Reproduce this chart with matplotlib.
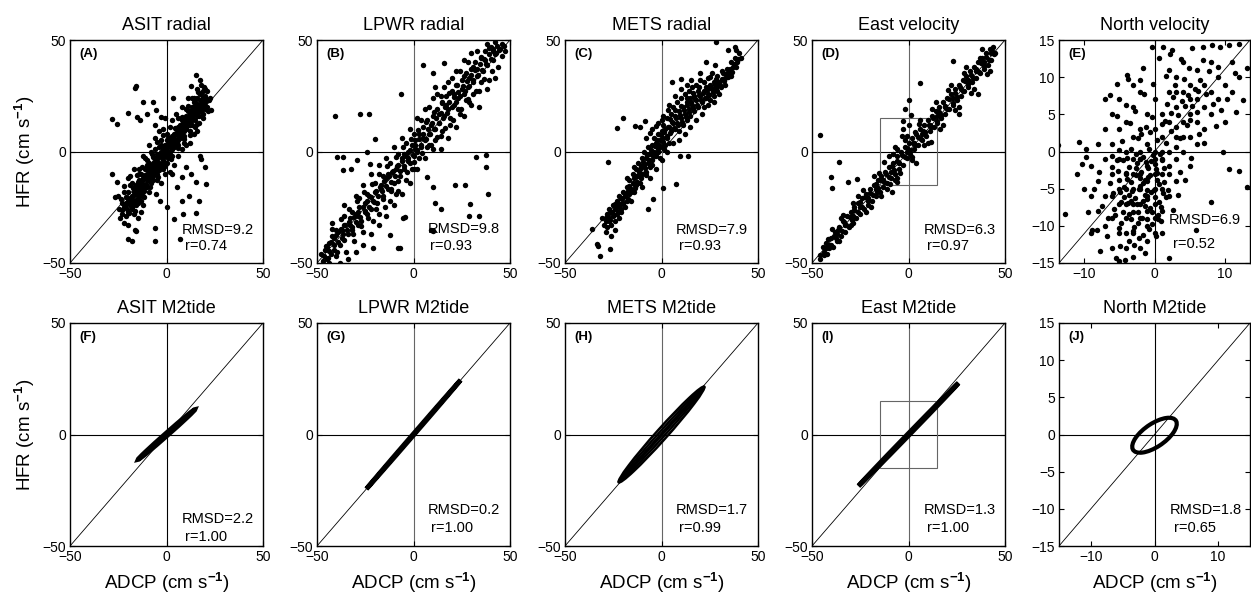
import numpy as np
import matplotlib
matplotlib.use("Agg")
import matplotlib.pyplot as plt
from matplotlib.patches import Ellipse, Rectangle

plt.rcParams['font.family'] = ['Liberation Sans', 'DejaVu Sans']
plt.rcParams['mathtext.fontset'] = 'custom'
plt.rcParams['mathtext.rm'] = 'Liberation Sans'
plt.rcParams['mathtext.it'] = 'Liberation Sans:italic'
plt.rcParams['mathtext.bf'] = 'Liberation Sans:bold'

# ---- panel titles / stats ----
titles = ['ASIT radial', 'LPWR radial', 'METS radial', 'East velocity', 'North velocity',
          'ASIT M2tide', 'LPWR M2tide', 'METS M2tide', 'East M2tide', 'North M2tide']
letters = ['(A)', '(B)', '(C)', '(D)', '(E)', '(F)', '(G)', '(H)', '(I)', '(J)']
rmsd = ['9.2', '9.8', '7.9', '6.3', '6.9', '2.2', '0.2', '1.7', '1.3', '1.8']
corr = ['0.74', '0.93', '0.93', '0.97', '0.52', '1.00', '1.00', '0.99', '1.00', '0.65']

# ---- scatter data (ADCP, HFR) ----
asit_pts = [
    (-23, -28), (-22, -25), (-21, -29), (-20, -22), (-20, -27), (-19, -24), (-18, -20), (-18, -26),
    (-17, -22), (-17, -18), (-16, -24), (-16, -15), (-15, -20), (-15, -17), (-14, -22), (-14, -13),
    (-13, -18), (-13, -10), (-12, -15), (-12, -20), (-11, -12), (-11, -8), (-10, -16), (-10, -10),
    (-9, -13), (-9, -5), (-8, -9), (-8, -14), (-7, -6), (-7, -11), (-6, -3), (-6, -8), (-5, -10),
    (-5, -1), (-4, -5), (-4, 2), (-3, -7), (-3, -2), (-2, 1), (-2, -4), (-1, 3), (-1, -2), (0, 0),
    (0, -5), (0, 5), (1, 2), (1, -3), (2, 6), (2, 0), (3, 4), (3, -2), (4, 8), (4, 2), (5, 5), (5, 10),
    (6, 3), (6, 8), (7, 12), (7, 6), (8, 9), (8, 14), (9, 7), (9, 12), (10, 16), (10, 10), (11, 13),
    (11, 18), (12, 9), (12, 15), (13, 20), (13, 12), (14, 17), (14, 22), (15, 14), (15, 19), (16, 24),
    (16, 16), (17, 21), (17, 13), (18, 18), (18, 26), (19, 22), (20, 19), (20, 25),
    (-21, -23), (-19, -21), (-18, -23), (-16, -19), (-15, -23), (-14, -18), (-13, -14), (-12, -12),
    (-11, -16), (-10, -13), (-9, -9), (-8, -6), (-7, -9), (-6, -5), (-5, -6), (-4, -2), (-3, 0),
    (-2, -1), (-1, 1), (0, 2), (1, 5), (2, 3), (3, 7), (4, 5), (5, 8), (6, 11), (7, 9), (8, 11),
    (9, 15), (10, 13), (11, 15), (12, 18), (13, 16), (14, 19), (15, 22), (16, 20), (17, 18), (18, 23),
    (19, 27), (20, 22), (-20, -18), (-23, -23), (-17, -28), (-12, -24), (-9, -18), (-5, -13), (-2, -8),
    (1, -1), (3, 1), (6, 5), (9, 4), (12, 12), (15, 11), (17, 16), (21, 20), (19, 17), (22, 23),
    (-3, 5), (-6, 1), (-10, -6), (-14, -10), (-18, -14), (-22, -18), (0, 8), (2, 11), (6, 15),
    (10, 19), (13, 24), (16, 28), (18, 30), (20, 28),
    (-24, -30), (-25, -20), (-22, -32), (-20, -33), (-19, -15), (-15, -30), (-13, -27), (-10, -4),
    (-8, 0), (-9, 3), (-6, 6), (-4, 9), (-2, 10), (-12, -2), (-14, -8), (-17, -8), (-20, -12),
    (-3, -14), (-1, -10), (2, -9), (4, -6), (6, -2), (8, 1), (10, 3), (12, 4), (14, 8), (16, 9),
    (3, 14), (5, 17), (8, 20), (11, 24), (-1, 15), (-6, 12),
    (-16.4, 28.3), (-16, 29.2), (-28.4, 14.7), (-25.9, 12.2), (-19.8, 17.3), (-12.4, 22.3),
    (-6.9, 22.3), (3.4, 23.8), (15.5, 34.3), (17.2, 32), (12.9, 29.3), (21, 27.2), (22.4, 23.8),
    (23.3, 18.5), (-19.8, -39.4), (-18.1, -40.2), (-16.4, -35.3), (-15.6, -35.8), (-6, -34.4),
    (-6, -40), (6.9, -39.4), (7.8, -22.1), (8.6, -28.1), (15.5, -27.4), (16.9, -22.1), (3.8, -30.4),
    (17.2, -1.8), (18.1, -3.3), (19.8, -7), (20.7, -14.6), (15.5, -13.8), (12.9, -10), (10.3, -7),
    (7.8, -11.6), (2.6, -10), (5.2, -16.1), (11.7, -19.8), (-28.4, -10), (-25.9, -13.8),
    (-26.7, -20.6), (-15.5, 15.5), (-13.8, 14), (-10.3, 17), (-5.2, 18.5), (-2.6, 15.5),
    (-3.4, -22.1), (-5.2, -19.1), (0, -25.1),
    (-21.5, -24.5), (-20.5, -25.8), (-19.5, -22.8), (-18.6, -21.4), (-17.8, -24.9), (-17.2, -20.1),
    (-16.5, -17.3), (-15.7, -21.6), (-15.1, -18.7), (-14.4, -15.2), (-13.6, -19.8), (-13.1, -16.4),
    (-12.5, -13.1), (-11.8, -17.6), (-11.2, -10.4), (-10.6, -14.5), (-10.1, -11.7), (-9.5, -8.3),
    (-8.8, -15.9), (-8.3, -10.8), (-7.6, -7.4), (-7.1, -12.9), (-6.5, -4.6), (-5.8, -9.2),
    (-5.4, -6.8), (-4.7, -3.5), (-4.1, -8.4), (-3.6, -1.2), (-2.9, -5.6), (-2.4, -2.7), (-1.7, 0.4),
    (-1.2, -4.8), (-0.6, 1.9), (0.3, -1.6), (0.8, 3.4), (1.5, -0.2), (2.1, 4.7), (2.7, 1.3),
    (3.4, 6.2), (3.9, 3.1), (4.6, 7.4), (5.2, 3.8), (5.8, 9.5), (6.4, 6.7), (7.1, 10.6), (7.7, 7.3),
    (8.4, 12.8), (8.9, 9.4), (9.6, 13.7), (10.2, 11.1), (10.8, 15.2), (11.5, 11.9), (12.1, 16.8),
    (12.7, 13.6), (13.4, 18.1), (13.9, 14.7), (14.6, 20.4), (15.2, 17.2), (15.8, 21.5), (16.5, 18.3),
    (17.1, 23.2), (17.7, 19.6), (18.4, 21.1), (19.1, 24.4), (19.8, 20.6), (-22.8, -26.3),
    (-20.9, -20.4), (-19.2, -27.7), (-17.5, -16.2), (-16.1, -26.5), (-14.8, -13.8), (-13.3, -22.4),
    (-11.6, -20.2), (-9.9, -7.1), (-8.1, -12.2), (-6.8, -2.3), (-4.4, -11.3), (-3.1, 2.8),
    (-0.9, -6.6), (0.6, 6.1), (2.4, -3.4), (4.3, 10.4), (6.1, 1.6), (8.2, 15.6), (9.3, 5.8),
    (11.2, 20.3), (12.4, 7.2), (14.1, 24.1), (15.6, 12.4), (17.4, 25.8), (18.7, 15.1), (20.6, 23.4),
    (21.4, 18.2), (16.2, 26.6), (19.4, 29.1), (-1.6, 7.3), (-5.1, 4.2), (-7.7, -1.1), (-10.9, -2.9),
    (-12.9, -6.8), (-15.4, -10.7), (-18.8, -11.2), (-21.8, -15.3), (-23.6, -21.2), (-24.4, -25.7),
]

lpwr_pts = [
    (-47, -49), (-46, -44), (-45, -48), (-44, -41), (-43, -46), (-42, -38), (-41, -44), (-40, -47),
    (-39, -36), (-38, -42), (-37, -39), (-36, -33), (-35, -45), (-34, -37), (-33, -30), (-32, -35),
    (-31, -40), (-30, -28), (-29, -33), (-28, -25), (-27, -31), (-26, -36), (-25, -23), (-24, -28),
    (-23, -20), (-22, -26), (-21, -31), (-20, -18), (-19, -23), (-18, -28), (-17, -15), (-16, -20),
    (-15, -25), (-14, -12), (-13, -17), (-12, -22), (-11, -9), (-10, -14), (-9, -19), (-8, -6),
    (-7, -11), (-6, -3), (-5, -8), (-4, -13), (-3, 0), (-2, -5), (-1, 3), (0, -2), (1, 5), (2, 0),
    (3, 8), (4, 2), (5, 11), (6, 5), (7, 14), (8, 8), (9, 3), (10, 16), (11, 10), (12, 19), (13, 13),
    (14, 7), (15, 22), (16, 16), (17, 25), (18, 19), (19, 12), (20, 27), (21, 21), (22, 30), (23, 24),
    (24, 17), (25, 32), (26, 26), (27, 35), (28, 29), (29, 22), (30, 37), (31, 31), (32, 40), (33, 34),
    (34, 27), (35, 42), (36, 36), (37, 45), (38, 39), (39, 32), (40, 47), (41, 41), (42, 49), (43, 44),
    (44, 38), (45, 46), (46, 43), (38, 48), (33, 45), (28, 40), (24, 36), (20, 33), (16, 29), (12, 26),
    (8, 20), (4, 14), (0, 8), (-4, 4), (-8, -1), (-12, -5), (-16, -11), (-20, -14), (-24, -19),
    (-28, -21), (-32, -27), (-36, -29), (-40, -35), (-30, -45), (-26, -42), (-22, -37), (-18, -33),
    (-14, -29), (-10, -24), (-6, -19), (-2, -14), (2, -8), (6, -3), (10, 1), (14, 1), (18, 6), (22, 11),
    (26, 16), (30, 21), (34, 20), (38, 28), (42, 33), (-44, -50), (-38, -50), (-34, -48), (-48, -46),
    (-42, -32), (-36, -24), (-30, -20), (-26, -15), (-22, -10), (-18, -6), (-14, -3), (-10, 2), (-6, 6),
    (-2, 10), (2, 15), (6, 19), (10, 24), (14, 25), (18, 31), (22, 36), (26, 41), (30, 44), (-1, -8),
    (3, -3), (7, 2), (11, 5), (15, 9), (19, 15), (23, 19), (27, 23), (31, 26), (35, 31), (1, 1),
    (-3, -3), (5, 6), (9, 12), (13, 17), (17, 21), (21, 26), (25, 28), (29, 33), (33, 37), (37, 41),
    (41, 46), (-5, -1), (-9, -8), (-13, -10), (-17, -17), (-21, -22), (-25, -27), (-29, -29),
    (-33, -33), (-37, -35), (-41, -39), (-45, -43),
    (-40.9, 15.8), (-27.9, 17), (-23.1, 17), (-19.7, 5.4), (-6.4, 25.6), (-39.7, -2.3), (-36.6, -2.6),
    (-36.6, -8.1), (-32.6, -7.8), (-24.1, -0.3), (-29.5, -4), (-22.5, -5.5), (0.5, -8), (7, -11.6),
    (10, -16), (10.9, -22.9), (14.3, -25.9), (9.1, -35), (10, -35.8), (21.7, -15.1), (26.7, -15.1),
    (29.3, -23.7), (34.1, -29), (29, -29), (38.4, -19.2), (37.6, -7.1), (37.6, -1.4), (32.4, -2.6),
    (4.8, 38.6), (10.3, 35.1), (15.7, 39.7), (10.9, 28.8), (-11.6, -16.6), (-8.1, -17.6),
    (-5.5, -29.7), (-4.6, -29.4), (-12.4, -37.3), (-8.1, -43.3), (-7.2, -43.3), (-21, -43.3),
    (-46.5, -46.8), (-45.2, -42.3), (-43.8, -44.6), (-42.6, -40.5), (-41.3, -42.1), (-40.2, -37.4),
    (-39.1, -40.8), (-37.8, -34.6), (-36.7, -37.2), (-35.4, -32.9), (-34.3, -35.1), (-33.2, -31.7),
    (-32.1, -33.8), (-30.9, -29.5), (-29.8, -31.6), (-28.6, -27.3), (-27.5, -29.2), (-26.4, -24.8),
    (-25.3, -26.9), (-24.1, -22.4), (-23.0, -24.7), (-21.9, -20.3), (-20.7, -22.5), (-19.6, -17.9),
    (-18.5, -20.1), (-17.4, -15.8), (-16.2, -17.7), (-15.1, -13.4), (-14.0, -15.6), (-12.9, -11.2),
    (-11.7, -13.5), (-10.6, -8.8), (-9.5, -11.1), (-8.4, -6.5), (-7.2, -8.9), (-6.1, -4.3),
    (-5.0, -6.4), (-3.9, -1.8), (-2.7, -4.2), (-1.6, 0.6), (-0.5, -1.7), (0.6, 2.9), (1.8, 0.7),
    (2.9, 5.4), (4.0, 3.1), (5.1, 7.8), (6.3, 5.5), (7.4, 10.2), (8.5, 7.8), (9.6, 12.6), (10.8, 10.3),
    (11.9, 14.9), (13.0, 12.6), (14.1, 17.3), (15.3, 15.1), (16.4, 19.8), (17.5, 17.4), (18.6, 22.1),
    (19.8, 19.9), (20.9, 24.6), (22.0, 22.2), (23.1, 26.9), (24.3, 24.7), (25.4, 29.3), (26.5, 27.1),
    (27.6, 31.8), (28.8, 29.4), (29.9, 34.2), (31.0, 31.9), (32.1, 36.6), (33.3, 34.3), (34.4, 39.1),
    (35.5, 36.7), (36.6, 41.4), (37.8, 39.2), (38.9, 43.8), (40.0, 41.5), (41.1, 45.2), (42.3, 43.8),
    (43.4, 47.1), (44.5, 45.3), (45.6, 48.2), (46.8, 47.4), (47.5, 45.1), (-44.3, -47.9),
    (-39.6, -45.2), (-35.8, -39.5), (-31.5, -37.2), (-27.3, -33.4), (-23.6, -29.8), (-19.2, -25.6),
    (-15.7, -21.3), (-11.4, -17.8), (-7.8, -13.2), (-3.5, -9.4), (0.2, -4.6), (4.6, -0.8), (8.1, 2.9),
    (12.4, 6.4), (16.2, 10.7), (20.4, 14.3), (24.7, 18.9), (28.3, 23.4), (32.6, 27.2), (36.4, 32.5),
    (40.7, 36.2), (-42.1, -34.7), (-37.4, -30.2), (-33.6, -25.8), (-29.2, -22.4), (-25.5, -18.3),
    (-21.3, -14.6), (-17.8, -10.2), (-13.5, -6.7), (-9.2, -2.4), (-5.6, 1.8), (-1.4, 5.7), (2.3, 9.6),
    (6.7, 13.4), (10.4, 17.9), (14.6, 21.6), (18.3, 26.2), (22.7, 29.8), (26.2, 33.7), (30.6, 38.1),
    (34.8, 42.6), (39.3, 46.4),
]

mets_pts = [
    (-30, -33), (-29, -30), (-28, -34), (-28, -28), (-27, -31), (-26, -27), (-26, -33), (-25, -29),
    (-25, -24), (-24, -31), (-24, -26), (-23, -28), (-23, -22), (-22, -25), (-22, -30), (-21, -21),
    (-21, -27), (-20, -23), (-20, -18), (-19, -25), (-19, -20), (-18, -16), (-18, -22), (-17, -19),
    (-17, -13), (-16, -17), (-16, -22), (-15, -14), (-15, -10), (-14, -18), (-14, -12), (-13, -8),
    (-13, -15), (-12, -11), (-12, -5), (-11, -14), (-11, -8), (-10, -3), (-10, -10), (-9, -6), (-9, 0),
    (-8, -9), (-8, -3), (-7, 2), (-7, -5), (-6, -1), (-6, -12), (-5, 3), (-5, -4), (-4, 0), (-4, 6),
    (-3, -2), (-3, 4), (-2, 8), (-2, 1), (-1, 5), (-1, -3), (0, 2), (0, 9), (1, 6), (1, 12), (2, 3),
    (2, 10), (3, 15), (3, 7), (4, 11), (4, 4), (5, 17), (5, 9), (6, 13), (6, 20), (7, 10), (7, 16),
    (8, 22), (8, 13), (9, 18), (9, 9), (10, 24), (10, 15), (11, 20), (11, 12), (12, 17), (12, 26),
    (13, 22), (13, 14), (14, 19), (14, 27), (15, 24), (15, 16), (16, 21), (16, 29), (17, 18), (17, 25),
    (18, 23), (18, 30), (19, 20), (19, 27), (20, 25), (20, 32), (21, 22), (22, 27), (22, 20), (23, 29),
    (23, 24), (24, 26), (24, 33), (25, 23), (25, 30), (26, 28), (26, 35), (27, 25), (27, 31), (28, 29),
    (29, 27), (29, 34), (30, 31), (31, 29), (32, 35), (33, 33), (34, 37), (35, 35), (36, 40), (37, 38),
    (38, 42), (39, 40), (40, 44), (41, 42), (-27, -26), (-22, -20), (-18, -12), (-14, -7), (-10, -16),
    (-6, -7), (-3, -8), (0, -4), (3, 0), (6, 4), (9, 5), (12, 8), (15, 11), (18, 14), (21, 17),
    (24, 21), (27, 22), (30, 26), (33, 30), (36, 34), (-8, 6), (-5, 10), (-2, 13), (1, 16), (4, 21),
    (7, 25), (10, 28), (13, 30), (-29, -36), (-26, -38), (-31, -30), (-24, -35),
    (-19.8, 15), (-23.3, 10.5), (-13.8, 11.3), (-8.6, 13.5), (-11, 11), (-27.6, -4.5), (-36.2, -34.6),
    (-33.6, -41.4), (-33.1, -42.2), (-31.9, -46.9), (-26.7, -43.9), (-6.9, -25.9), (-4.3, -21.4),
    (0.9, -16.5), (7.6, -14.6), (9.5, -1.8), (13.8, -2.1), (5.2, 31.3), (10.3, 32.3), (15.5, 32),
    (19.8, 35.3), (28.4, 48.9), (34.5, 45.6), (37.9, 47), (38.8, 45.6), (23.3, 40.3), (27.6, 38.8),
    (-28.6, -31.2), (-27.4, -29.6), (-26.7, -30.8), (-25.6, -27.2), (-24.8, -28.4), (-23.5, -25.1),
    (-22.7, -27.3), (-21.6, -23.6), (-20.5, -21.2), (-19.7, -23.4), (-18.6, -19.1), (-17.5, -21.5),
    (-16.8, -15.4), (-15.6, -18.3), (-14.5, -14.7), (-13.4, -11.2), (-12.6, -13.8), (-11.5, -9.4),
    (-10.4, -12.1), (-9.6, -4.5), (-8.5, -7.2), (-7.4, -1.6), (-6.6, -3.8), (-5.5, 0.7), (-4.4, -2.1),
    (-3.5, 2.6), (-2.4, 5.3), (-1.5, 3.1), (-0.4, 7.4), (0.6, 4.2), (1.5, 8.9), (2.6, 6.1), (3.5, 11.2),
    (4.6, 8.3), (5.5, 13.1), (6.5, 10.6), (7.5, 14.8), (8.4, 11.7), (9.5, 16.4), (10.5, 13.2),
    (11.4, 18.6), (12.5, 15.3), (13.4, 20.7), (14.5, 17.6), (15.4, 22.3), (16.5, 19.4), (17.5, 23.6),
    (18.4, 20.8), (19.5, 25.2), (20.4, 22.9), (21.5, 26.4), (22.5, 24.1), (23.4, 27.8), (24.5, 25.4),
    (25.4, 28.6), (26.5, 26.7), (27.5, 29.9), (28.4, 28.2), (29.5, 30.8), (30.5, 29.6), (31.4, 32.7),
    (32.5, 31.4), (33.5, 34.6), (34.4, 33.2), (35.5, 37.1), (36.6, 35.8), (37.5, 39.4), (38.5, 38.1),
    (39.6, 41.3), (-27.8, -27.9), (-24.2, -23.4), (-20.9, -25.9), (-17.2, -17.6), (-13.9, -16.4),
    (-10.8, -6.3), (-7.9, -10.6), (-4.8, -6.1), (-1.9, -0.4), (1.2, 1.3), (4.2, 14.6), (7.1, 18.7),
    (10.2, 20.6), (13.1, 23.9), (16.1, 26.3), (19.2, 29.1), (22.1, 31.2), (25.2, 33.4), (28.1, 32.5),
    (31.2, 36.3), (-6.2, 8.4), (-3.1, 11.6), (0.3, 14.2), (3.2, 18.4),
]

east_pts = [
    (-46, -48), (-44, -45), (-43, -41), (-42, -46), (-40, -39), (-39, -43), (-38, -36), (-37, -40),
    (-36, -34), (-35, -38), (-34, -31), (-33, -36), (-32, -29), (-31, -34), (-30, -27), (-29, -32),
    (-28, -25), (-27, -30), (-26, -23), (-25, -28), (-24, -21), (-23, -26), (-22, -19), (-21, -24),
    (-20, -17), (-19, -22), (-18, -15), (-17, -20), (-16, -13), (-15, -18), (-14, -11), (-13, -16),
    (-12, -9), (-11, -14), (-10, -7), (-9, -12), (-8, -5), (-7, -10), (-6, -2), (-5, -8), (-4, 0),
    (-3, -6), (-2, 2), (-1, -3), (0, 4), (1, -1), (2, 6), (3, 1), (4, 8), (5, 3), (6, 10), (7, 5),
    (8, 12), (9, 7), (10, 14), (11, 9), (12, 16), (13, 11), (14, 18), (15, 13), (16, 20), (17, 15),
    (18, 22), (19, 17), (20, 24), (21, 19), (22, 26), (23, 21), (24, 28), (25, 23), (26, 30), (27, 25),
    (28, 32), (29, 27), (30, 34), (31, 29), (32, 36), (33, 31), (34, 38), (35, 33), (36, 40), (37, 35),
    (38, 42), (39, 37), (40, 44), (41, 39), (42, 46), (43, 41), (44, 47), (45, 44), (-41, -42),
    (-37, -37), (-33, -33), (-29, -29), (-25, -25), (-21, -21), (-17, -17), (-13, -13), (-9, -9),
    (-5, -5), (-1, 0), (3, 4), (7, 8), (11, 12), (15, 16), (19, 20), (23, 24), (27, 28), (31, 32),
    (35, 36), (39, 40), (43, 44), (-35, -30), (-30, -33), (-26, -20), (-22, -27), (-18, -11),
    (-14, -20), (-10, -2), (-6, -12), (-2, 5), (2, -4), (6, 14), (10, 4), (14, 22), (18, 12), (22, 30),
    (26, 20), (30, 38), (34, 28), (38, 46), (42, 36), (-3, 10), (-7, 2), (0, 12), (4, -5),
    (-45.7, 7.5), (-36.2, -4.8), (-40, -11.6), (-39.7, -16.5), (-31.4, -13.5), (-26.7, -12.3),
    (6, 30.8), (0, 23.3), (-1.7, 19.2), (22.9, 40.6), (36.2, 25.6), (26.4, 17), (11.6, 4.2),
    (-6, -13.8), (-6.9, -13), (-8.6, -18.3), (-16.4, -18.3), (-45.7, -46.2), (-44, -46.5),
    (-41.4, -43.2), (-36.2, -40.2),
    (-44.5, -42.8), (-42.8, -43.4), (-41.6, -39.3), (-40.4, -41.8), (-38.7, -37.9), (-37.5, -38.6),
    (-36.3, -35.2), (-34.6, -35.7), (-33.4, -31.8), (-32.2, -33.1), (-30.5, -29.4), (-29.3, -30.6),
    (-28.1, -26.3), (-26.4, -27.2), (-25.2, -22.8), (-24.0, -24.9), (-22.3, -20.6), (-21.1, -22.1),
    (-19.9, -18.4), (-18.2, -19.3), (-17.0, -14.7), (-15.8, -16.2), (-14.1, -12.9), (-12.9, -13.8),
    (-11.7, -10.2), (-10.0, -11.4), (-8.8, -6.7), (-7.6, -8.3), (-5.9, -4.1), (-4.7, -5.2),
    (-3.5, -1.6), (-1.8, -2.3), (-0.6, 1.7), (0.6, 0.8), (2.3, 3.9), (3.5, 2.7), (4.7, 6.6), (6.4, 5.8),
    (7.6, 9.4), (8.8, 8.6), (10.5, 11.7), (11.7, 10.9), (12.9, 14.8), (14.6, 13.6), (15.8, 17.5),
    (17.0, 16.3), (18.7, 20.2), (19.9, 19.1), (21.1, 23.4), (22.8, 21.7), (24.0, 26.1), (25.2, 24.6),
    (26.9, 28.9), (28.1, 27.3), (29.3, 31.6), (31.0, 30.2), (32.2, 34.3), (33.4, 32.8), (35.1, 37.2),
    (36.3, 35.6), (37.5, 39.8), (39.2, 38.4), (40.4, 42.6), (41.6, 41.1), (43.3, 45.2), (44.5, 43.9),
    (-39.8, -34.6), (-34.1, -28.3), (-28.8, -23.1), (-23.5, -17.2), (-19.4, -24.8), (-15.3, -9.8),
    (-11.2, -16.7), (-8.1, -1.2), (-4.2, -9.6), (-0.8, 6.8), (1.9, -2.6), (5.4, 12.3), (8.2, 3.1),
    (12.3, 19.2), (16.4, 10.1), (20.6, 27.4), (24.3, 18.6), (28.7, 35.2), (32.6, 26.3), (36.8, 41.9),
    (40.9, 34.7), (-3.2, 6.9), (-9.4, -14.6), (3.6, 8.7), (-2.6, 13.6), (-5.7, 1.3), (1.2, 16.4),
    (-12.6, -4.8),
]

north_pts = [
    (-7, -6), (-6, -9), (-6, -3), (-6, 1), (-5, -7), (-5, -1), (-5, 3), (-5, -11), (-4, -5), (-4, -9),
    (-4, 0), (-4, 4), (-4, -13), (-3, -3), (-3, -7), (-3, 2), (-3, -11), (-3, 6), (-2, -1), (-2, -5),
    (-2, -9), (-2, 3), (-2, -13), (-2, 8), (-1, -2), (-1, -6), (-1, -10), (-1, 1), (-1, 5), (-1, -4),
    (0, -3), (0, -7), (0, 0), (0, 3), (0, -11), (0, 7), (1, -1), (1, -5), (1, 2), (1, 5), (1, -8),
    (2, 0), (2, -3), (2, 4), (2, 8), (2, -6), (3, 2), (3, 6), (3, -1), (3, 10), (3, -4), (4, 4), (4, 8),
    (4, 0), (4, 12), (5, 5), (5, 2), (5, 9), (5, -2), (6, 7), (6, 4), (6, 11), (6, 1), (7, 6), (7, 9),
    (7, 3), (8, 8), (8, 5), (8, 12), (9, 7), (9, 10), (10, 9), (10, 4), (11, 8), (12, 10), (-8, -4),
    (-8, -8), (-9, -2), (-9, -6), (-7, -10), (-7, -1), (-7, 3), (-6, -13), (-6, 5), (-5, 7), (-4, -3),
    (-3, -5), (-2, -7), (-2, -3), (-1, -8), (0, -5), (0, -1), (1, -3), (1, 0), (-3, -1), (-5, -5),
    (-4, -7), (-6, -6), (-1, -12), (0, -9), (1, -11), (-2, 0), (-3, 9), (2, 11), (4, 2), (3, 8), (5, 7),
    (-8, 1), (-10, -5), (-9, -11), (-11, -3),
    (-13.8, 0.9), (-10.8, 1.3), (-9.7, -0.8), (-12.7, -8.4), (-8.9, -10.5), (-7.7, -13.4), (-7, 7.1),
    (-3.9, 10.3), (-3.8, 9.8), (-2.1, 9.6), (-0.3, 14.1), (1.2, 14.1), (2.5, 13.6), (5.4, 13.9),
    (6.9, 14.1), (8.2, 14.3), (9.3, 14.1), (10.6, 14.3), (12.1, 14.5), (9, 11.4), (11.1, 12.1),
    (13.2, 11.2), (14.2, 8.2), (12.6, 6.9), (11.6, 5.3), (9.8, -0.1), (10.6, -2.3), (12.1, -2.6),
    (13.2, -4.8), (8, -6.8), (5.9, -10.5), (2, -14.3), (0.5, -9.1), (-5.5, -14.3), (-5, -14.7),
    (-6.3, -4.2), (-5.7, -7.8), (-5.2, -2.6), (-4.8, -9.6), (-4.6, 1.4), (-4.3, -6.1), (-3.9, -3.7),
    (-3.7, -8.4), (-3.4, 0.3), (-3.2, -5.3), (-2.9, -10.2), (-2.7, -2.2), (-2.5, -7.1), (-2.3, 1.8),
    (-2.1, -4.6), (-1.8, -8.9), (-1.6, -0.7), (-1.4, -5.9), (-1.2, 3.3), (-0.9, -3.4), (-0.7, -7.6),
    (-0.5, -1.3), (-0.3, 4.6), (-0.1, -5.2), (0.2, -2.4), (0.4, 1.6), (0.6, -6.8), (0.8, -0.3),
    (1.1, 3.7), (1.3, -4.1), (1.6, 1.1), (1.8, 6.4), (2.1, -1.9), (2.4, 2.8), (2.7, 7.3), (3.0, 0.6),
    (3.3, 4.9), (3.6, -2.7), (3.9, 6.8), (4.2, 9.7), (4.6, 3.6), (4.9, 11.2), (5.3, 6.1), (5.7, 8.4),
    (6.1, 5.3), (6.5, 9.6), (6.9, 12.3), (7.4, 7.7), (7.8, 10.8), (8.3, 6.4), (-6.8, -11.4),
    (-6.1, -0.6), (-5.4, 4.8), (-4.9, -12.7), (-4.1, 6.3), (-3.6, -12.1), (-2.8, 5.4), (-2.2, -11.6),
    (-1.5, 7.8), (-0.8, -10.4), (-0.2, 9.1), (0.9, -9.3), (1.7, 10.2), (-7.5, -7.3), (-7.9, -2.8),
    (-8.6, -5.1), (-8.2, -10.6), (-9.4, -8.2), (-9.8, 0.4), (-10.3, -1.7), (-6.6, -8.9), (-5.9, -5.6),
    (-5.1, -3.9), (-4.5, -1.2), (-3.8, -6.9), (-3.3, -9.1), (-2.6, -0.4), (-1.9, -2.8), (-1.1, -6.4),
    (-0.4, -8.2), (0.3, -3.9), (1.0, -1.1), (1.9, -5.2), (2.6, -7.9), (3.4, -5.8), (4.4, -3.8),
    (5.2, -0.9), (6.3, 2.4), (7.1, 1.2), (8.7, 3.4), (9.5, 5.6), (10.3, 7.1), (11.4, 10.6),
    (-3.1, -14.2), (-4.2, -14.6), (-1.3, -13.6), (-6.4, 7.6), (-5.3, 9.1), (-1.7, 11.3), (0.7, 12.6),
    (2.2, 13.1), (3.8, 12.4),
    (-4.4, -4.8), (-3.6, -2.1), (-2.8, -6.3), (-2.0, -3.6), (-1.2, -1.4), (-0.5, -5.5), (0.4, -2.9),
    (-3.9, -0.9), (-3.0, -8.1), (-2.2, -5.1), (-1.4, -7.3), (-0.6, -3.1), (0.1, -6.1), (-4.7, -6.8),
    (-3.3, -4.1), (-2.5, -1.6), (-1.7, -4.2), (-0.9, -2.2), (-0.2, -0.5), (0.7, -4.4), (-4.0, -10.9),
    (-2.4, -9.6), (-1.0, -9.1), (-5.6, -8.6), (-5.0, 0.2), (-3.5, 3.9), (-1.9, 2.3), (-0.6, 2.6),
    (0.9, -7.4), (1.4, -2.2), (-6.0, -2.1), (-2.9, -12.6), (-4.1, -2.9), (-2.6, -3.2), (-1.3, -3.9),
    (0.0, -1.7), (-3.4, -6.6), (-1.6, -6.7), (1.6, -6.1), (-0.3, -9.8), (-4.9, -5.4), (-3.7, -5.9),
    (-2.3, -8.2), (-1.1, -5.2), (0.5, -8.6), (-4.5, -8.1), (-2.0, -1.0), (-0.8, 0.3), (1.2, -5.6),
    (-5.3, -1.1), (2.4, 5.2), (3.1, 3.3), (4.4, 6.1), (5.0, 4.2), (2.9, 9.0), (6.2, 8.2), (3.7, 1.8),
    (4.8, 7.6), (1.5, 4.1), (-3.1, -10.7), (-1.7, -11.2), (0.2, -11.4), (-5.1, -10.3),
]

# ---- M2 tide ellipses: centre, major diameter, minor diameter, angle (data units / deg) ----
tide_ellipses = {
    5: [((0, 0), 37.0, 1.2, 37.3)],
    6: [((0, 0), 69.0, 0.5, 45.0)],
    7: [((0, 0), 61.5, 5.2, 44.0), ((0, 0), 61.5, 2.8, 44.0), ((0, 0), 61.5, 0.6, 44.0)],
    8: [((0, 0), 69.4, 0.8, 41.7)],
    9: [((0, -0.1), 7.8, 3.2, 29.0)],
}

scatter_sets = [asit_pts, lpwr_pts, mets_pts, east_pts, north_pts]

# text positions in axes fraction: (rmsd x, rmsd y, r x, r y)
stat_pos = [(0.578, 0.150, 0.595, 0.075), (0.574, 0.151, 0.583, 0.075),
            (0.574, 0.150, 0.590, 0.078), (0.578, 0.150, 0.595, 0.078),
            (0.576, 0.195, 0.597, 0.083), (0.578, 0.119, 0.595, 0.040),
            (0.574, 0.160, 0.590, 0.082), (0.574, 0.160, 0.590, 0.082),
            (0.578, 0.160, 0.595, 0.082), (0.578, 0.160, 0.600, 0.082)]

W, H = 1251, 597
fig = plt.figure(figsize=(W / 100, H / 100), dpi=100)

lefts = [70, 317, 565, 812, 1059]
tops = [40, 323]
aw, ah = 193, 223

for i in range(10):
    row, col = divmod(i, 5)
    width = aw if col < 4 else 191
    ax = fig.add_axes([lefts[col] / W, 1 - (tops[row] + ah) / H, width / W, ah / H])

    if col < 4:
        lim_x = (-50, 50)
        lim_y = (-50, 50)
        ticks_x = [-50, 0, 50]
        ticks_y = [-50, 0, 50]
    else:
        lim_x = (-13.6, 13.6) if row == 0 else (-15, 15)
        lim_y = (-15, 15)
        ticks_x = [-10, 0, 10]
        ticks_y = [-15, -10, -5, 0, 5, 10, 15]

    ax.axhline(0, color='k', lw=0.8, zorder=1)
    vcol = 'k' if col in (0, 4) else '0.4'
    ax.axvline(0, color=vcol, lw=0.8, zorder=1)
    ax.plot(lim_x, lim_y, color='k', lw=0.6, zorder=1)

    if col == 3:
        ax.add_patch(Rectangle((-15, -15), 30, 30, fill=False, ec='0.4', lw=0.8, zorder=1))

    if row == 0:
        pts = np.array(scatter_sets[col])
        ax.plot(pts[:, 0], pts[:, 1], 'o', color='k', ms=3.9, mew=0, zorder=2)
    else:
        for (cxy, wd, ht, ang) in tide_ellipses[i]:
            lw = 3.0 if i == 9 else (1.8 if i == 7 else 3.4)
            ax.add_patch(Ellipse(cxy, wd, ht, angle=ang, fill=False, ec='k', lw=lw, zorder=2))

    ax.set_xlim(lim_x)
    ax.set_ylim(lim_y)
    ax.set_xticks(ticks_x)
    ax.set_yticks(ticks_y)
    ax.set_xticklabels([str(t).replace('-', '\u2212') for t in ticks_x])
    ax.set_yticklabels([str(t).replace('-', '\u2212') for t in ticks_y])
    ax.tick_params(direction='in', length=3.5, width=0.8, top=True, right=True,
                   labelsize=10, pad=3)
    for s in ax.spines.values():
        s.set_linewidth(1.0)

    ax.set_title(titles[i], fontsize=13, pad=7)
    ax.text(0.05, 0.935, letters[i], transform=ax.transAxes, fontsize=9.5,
            fontweight='bold', ha='left', va='center')
    rx, ry, cx, cy = stat_pos[i]
    ax.text(rx, ry, 'RMSD=' + rmsd[i], transform=ax.transAxes, fontsize=10.5,
            ha='left', va='center')
    ax.text(cx, cy, 'r=' + corr[i], transform=ax.transAxes, fontsize=10.5,
            ha='left', va='center')

    if col == 0:
        ax.set_ylabel('HFR (cm s$^{\\mathbf{-1}}$)', fontsize=13.5, labelpad=4)
    if row == 1:
        ax.set_xlabel('ADCP (cm s$^{\\mathbf{-1}}$)', fontsize=13.5, labelpad=5)

fig.savefig('out.png', dpi=100)
